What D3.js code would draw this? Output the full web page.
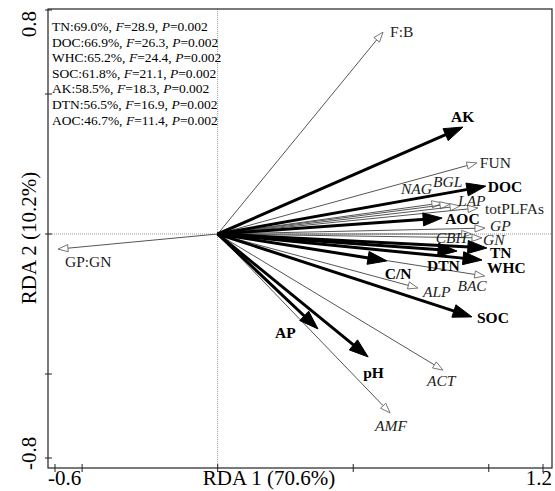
<!DOCTYPE html>
<html>
<head>
<meta charset="utf-8">
<script src="https://cdn.jsdelivr.net/npm/d3@7"></script>
<style>
  body { margin: 0; background: #fff; }
  svg { display: block; }
</style>
</head>
<body>
<svg width="555" height="491"></svg>
<script>
// response variables (thin arrows)
const respNames = ['F:B', 'FUN', 'NAG', 'BGL', 'LAP', 'totPLFAs', 'GP', 'CBH', 'GN', 'BAC', 'ALP', 'ACT', 'AMF', 'GP:GN'];
const respX = [0.610, 0.956, 0.827, 0.857, 0.894, 0.960, 0.986, 0.937, 0.975, 0.985, 0.739, 0.831, 0.636, -0.589];
const respY = [0.721, 0.254, 0.111, 0.107, 0.100, 0.093, 0.021, 0.000, -0.014, -0.150, -0.193, -0.486, -0.639, -0.054];

// environmental variables (thick arrows)
const envNames = ['AK', 'DOC', 'AOC', 'TN', 'DTN', 'WHC', 'C/N', 'SOC', 'AP', 'pH'];
const envX = [0.905, 0.989, 0.828, 0.993, 0.883, 0.975, 0.624, 0.938, 0.370, 0.555];
const envY = [0.382, 0.171, 0.057, -0.050, -0.061, -0.093, -0.096, -0.296, -0.339, -0.439];

// forward selection results
const selNames = ['TN', 'DOC', 'WHC', 'SOC', 'AK', 'DTN', 'AOC'];
const selPct = ['69.0', '66.9', '65.2', '61.8', '58.5', '56.5', '46.7'];
const selF = ['28.9', '26.3', '24.4', '21.1', '18.3', '16.9', '11.4'];
const selP = ['0.002', '0.002', '0.002', '0.002', '0.002', '0.002', '0.002'];

const xTicks = [-0.6, -0.5, 0, 0.5, 1.0, 1.2];
const yTicks = [-0.8, -0.5, 0, 0.5, 0.8];

// label placement (pixels relative to arrow tip)
const labelPos = {
  'F:B': [7, 0, 'start'], 'FUN': [3, 0, 'start'], 'NAG': [-10, -14, 'end'],
  'BGL': [-17, -22, 'start'], 'LAP': [-2, -5, 'start'], 'totPLFAs': [7, 1, 'start'],
  'GP': [5, -2, 'start'], 'CBH': [-5, 4, 'end'], 'GN': [1, 2, 'start'],
  'BAC': [2, 10, 'end'], 'ALP': [5, 4, 'start'], 'ACT': [-16, 11, 'start'],
  'AMF': [-15, 13, 'start'], 'GP:GN': [7, 13, 'start'],
  'AK': [-12, -10, 'start'], 'DOC': [2, 1, 'start'], 'AOC': [3, 1, 'start'],
  'TN': [3, 5, 'start'], 'DTN': [-30, 15, 'start'], 'WHC': [5, 8, 'start'],
  'C/N': [-2, 13, 'start'], 'SOC': [5, 1, 'start'], 'AP': [-43, 4, 'start'],
  'pH': [-5, 16, 'start']
};
const italicResp = ['NAG', 'BGL', 'LAP', 'GP', 'CBH', 'GN', 'BAC', 'ALP', 'ACT', 'AMF'];

const serif = '"Liberation Serif", "Times New Roman", serif';
const svg = d3.select('svg');

const frame = { left: 48, right: 552, top: 9, bottom: 468 };
const x = d3.scaleLinear().domain([-0.6, 1.2]).range([55, 543]);
const y = d3.scaleLinear().domain([-0.8, 0.8]).range([458, 10]);

// zero lines
svg.append('line')
    .attr('x1', x(0)).attr('x2', x(0))
    .attr('y1', frame.top).attr('y2', frame.bottom)
    .attr('stroke', '#999').attr('stroke-width', 1).attr('stroke-dasharray', '1,1');
svg.append('line')
    .attr('x1', frame.left).attr('x2', frame.right)
    .attr('y1', y(0)).attr('y2', y(0))
    .attr('stroke', '#999').attr('stroke-width', 1).attr('stroke-dasharray', '1,1');

// frame
svg.append('rect')
    .attr('x', frame.left).attr('y', frame.top)
    .attr('width', frame.right - frame.left).attr('height', frame.bottom - frame.top)
    .attr('fill', 'none').attr('stroke', '#222').attr('stroke-width', 1.2);

// ticks
svg.selectAll('.xt').data(xTicks).enter().append('line')
    .attr('x1', d => x(d)).attr('x2', d => x(d))
    .attr('y1', frame.bottom - 4).attr('y2', frame.bottom + 4)
    .attr('stroke', '#222');
svg.selectAll('.yt').data(yTicks).enter().append('line')
    .attr('x1', frame.left - 3).attr('x2', frame.left + 4)
    .attr('y1', d => y(d)).attr('y2', d => y(d))
    .attr('stroke', '#222');

// tick labels, only the extremes
svg.append('text').text('-0.6')
    .attr('x', x(-0.6) - 7).attr('y', 485)
    .attr('text-anchor', 'start')
    .style('font-family', serif).style('font-size', '21px');
svg.append('text').text('1.2')
    .attr('x', x(1.2) + 9).attr('y', 485)
    .attr('text-anchor', 'end')
    .style('font-family', serif).style('font-size', '21px');
svg.append('text').text('0.8')
    .attr('transform', `translate(${frame.left - 12},${y(0.8) + 1}) rotate(-90)`)
    .attr('text-anchor', 'end')
    .style('font-family', serif).style('font-size', '21px');
svg.append('text').text('-0.8')
    .attr('transform', `translate(${frame.left - 12},${y(-0.8) + 12}) rotate(-90)`)
    .attr('text-anchor', 'start')
    .style('font-family', serif).style('font-size', '21px');

// axis titles
svg.append('text').text('RDA 1 (70.6%)')
    .attr('x', 269).attr('y', 485)
    .attr('text-anchor', 'middle')
    .style('font-family', serif).style('font-size', '21px');
svg.append('text').text('RDA 2 (10.2%)')
    .attr('transform', `translate(36,${y(0) + 4}) rotate(-90)`)
    .attr('text-anchor', 'middle')
    .style('font-family', serif).style('font-size', '21px');

// arrows
function arrow(g, vx, vy, thick) {
  const x0 = x(0), y0 = y(0), x1 = x(vx), y1 = y(vy);
  const dx = x1 - x0, dy = y1 - y0, len = Math.hypot(dx, dy);
  const ux = dx / len, uy = dy / len;
  const hl = thick ? 19 : 10, hw = thick ? 6.5 : 3.6;
  const bx = x1 - ux * hl, by = y1 - uy * hl;
  g.append('line')
      .attr('x1', x0).attr('y1', y0)
      .attr('x2', thick ? bx + ux * 2 : bx).attr('y2', thick ? by + uy * 2 : by)
      .attr('stroke', thick ? '#000' : '#555')
      .attr('stroke-width', thick ? 3 : 1);
  g.append('polygon')
      .attr('points', [[x1, y1], [bx - uy * hw, by + ux * hw], [bx + uy * hw, by - ux * hw]].map(p => p.join(',')).join(' '))
      .attr('fill', thick ? '#000' : '#fff')
      .attr('stroke', thick ? '#000' : '#666')
      .attr('stroke-width', thick ? 1 : 0.9);
}

const gResp = svg.append('g');
respNames.forEach((n, i) => arrow(gResp, respX[i], respY[i], false));
const gEnv = svg.append('g');
envNames.forEach((n, i) => arrow(gEnv, envX[i], envY[i], true));

// labels
function label(n, vx, vy, bold, italic) {
  const p = labelPos[n];
  svg.append('text').text(n)
      .attr('x', x(vx) + p[0]).attr('y', y(vy) + p[1] + 5)
      .attr('text-anchor', p[2])
      .style('font-family', serif)
      .style('font-size', '15.5px')
      .style('font-weight', bold ? 'bold' : 'normal')
      .style('font-style', italic ? 'italic' : 'normal')
      .style('fill', bold ? '#000' : '#222');
}
respNames.forEach((n, i) => label(n, respX[i], respY[i], false, italicResp.includes(n)));
envNames.forEach((n, i) => label(n, envX[i], envY[i], true, false));

// selection table
const tbl = svg.append('text')
    .style('font-family', serif).style('font-size', '13.5px');
selNames.forEach((n, i) => {
  const line = tbl.append('tspan').attr('x', 52).attr('y', 31 + i * 15.6);
  line.text(`${n}:${selPct[i]}%, `);
  tbl.append('tspan').style('font-style', 'italic').text('F');
  tbl.append('tspan').text(`=${selF[i]}, `);
  tbl.append('tspan').style('font-style', 'italic').text('P');
  tbl.append('tspan').text(`=${selP[i]}`);
});
</script>
</body>
</html>
